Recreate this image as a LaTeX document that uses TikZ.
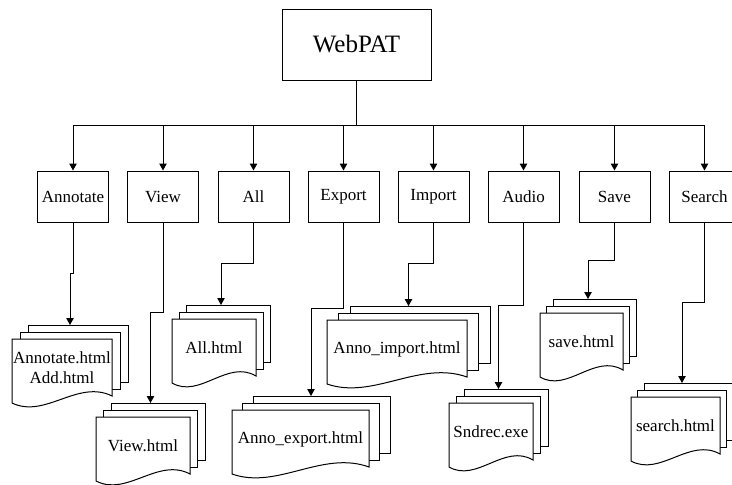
\documentclass[tikz,border=0pt]{standalone}
\usepackage{fontspec}
\setmainfont{Liberation Serif}
\usetikzlibrary{arrows.meta}

\tikzset{
  modbox/.style={draw, fill=white, minimum width=71pt, minimum height=51pt,
                 inner sep=0pt, font=\fontsize{17}{20}\selectfont},
  rootbox/.style={draw, fill=white, minimum width=149pt, minimum height=71pt,
                  inner sep=0pt, font=\fontsize{25}{30}\selectfont},
  link/.style={-{Triangle[length=7pt,width=7.5pt]}},
  doctext/.style={font=\fontsize{17}{20}\selectfont, align=center, inner sep=0pt},
  sheet/.style={draw, fill=white},
}

% A stack of three documents: name, left x, top y, width, horizontal offset, label.
% The coordinate <name>-in marks where an incoming link ends (top of the back sheet).
\newcommand\filestack[6]{%
  \path[sheet] ({#2+2*#5},{#3-14}) rectangle ({#2+2*#5+#4},{#3+43});
  \path[sheet] ({#2+#5},{#3-7}) rectangle ({#2+#5+#4},{#3+50});
  \path[sheet] (#2,#3) -- ({#2+#4},#3) -- ({#2+#4},{#3+57})
    .. controls ({#2+0.66*#4},{#3+40}) and ({#2+0.33*#4},{#3+80}) .. (#2,{#3+64}) -- cycle;
  \node[doctext] (#1) at ({#2+#4/2},{#3+29}) {#6};
  \coordinate (#1-in) at ({#2+#5+#4/2},{#3-14});
}

\begin{document}
\begin{tikzpicture}[x=1pt, y=-1pt, line width=1pt]
  \useasboundingbox (0,0) rectangle (732,485);

  % root and modules
  \node[rootbox] (webpat) at (356.5,44.5) {WebPAT};
  \node[modbox] (annotate) at (73,196.5)  {Annotate};
  \node[modbox] (view)     at (163,196.5) {View};
  \node[modbox] (all)      at (253.5,196.5) {All};
  \node[modbox] (export)   at (343.5,196.5) {Export};
  \node[modbox] (import)   at (433.5,196.5) {Import};
  \node[modbox] (audio)    at (523.5,196.5) {Audio};
  \node[modbox] (save)     at (614.5,196.5) {Save};
  \node[modbox] (search)   at (704.5,196.5) {Search};

  % distribution bus
  \coordinate (bus) at (357,125);
  \draw (webpat.south) -- (webpat.south |- bus);
  \draw (annotate.north |- bus) -- (search.north |- bus);
  \foreach \m in {annotate,view,all,export,import,audio,save,search}
    \draw[link] (\m.north |- bus) -- (\m.north);

  % file stacks
  \filestack{annofiles}{12}{339}{100}{8}{Annotate.html\\Add.html}
  \filestack{viewfiles}{96}{417}{94}{7.5}{View.html}
  \filestack{allfiles}{172}{319}{84}{7}{All.html}
  \filestack{exportfiles}{232}{410}{137}{10.5}{Anno\_export.html}
  \filestack{importfiles}{327}{320}{140}{11.5}{Anno\_import.html}
  \filestack{audiofiles}{449}{403}{84}{7.5}{Sndrec.exe}
  \filestack{savefiles}{540}{313}{83}{6.5}{save.html}
  \filestack{searchfiles}{631}{397}{89}{6.5}{search.html}

  % module to file links
  \draw[link] (annotate.south) -- ++(0,51) -| (annofiles-in);
  \draw[link] (view.south)     -- ++(0,90) -| (viewfiles-in);
  \draw[link] (all.south)      -- ++(0,41) -| (allfiles-in);
  \draw[link] (export.south)   -- ++(0,86) -| (exportfiles-in);
  \draw[link] (import.south)   -- ++(0,41) -| (importfiles-in);
  \draw[link] (audio.south)    -- ++(0,83) -| (audiofiles-in);
  \draw[link] (save.south)     -- ++(0,38) -| (savefiles-in);
  \draw[link] (search.south)   -- ++(0,80) -| (searchfiles-in);
\end{tikzpicture}
\end{document}
